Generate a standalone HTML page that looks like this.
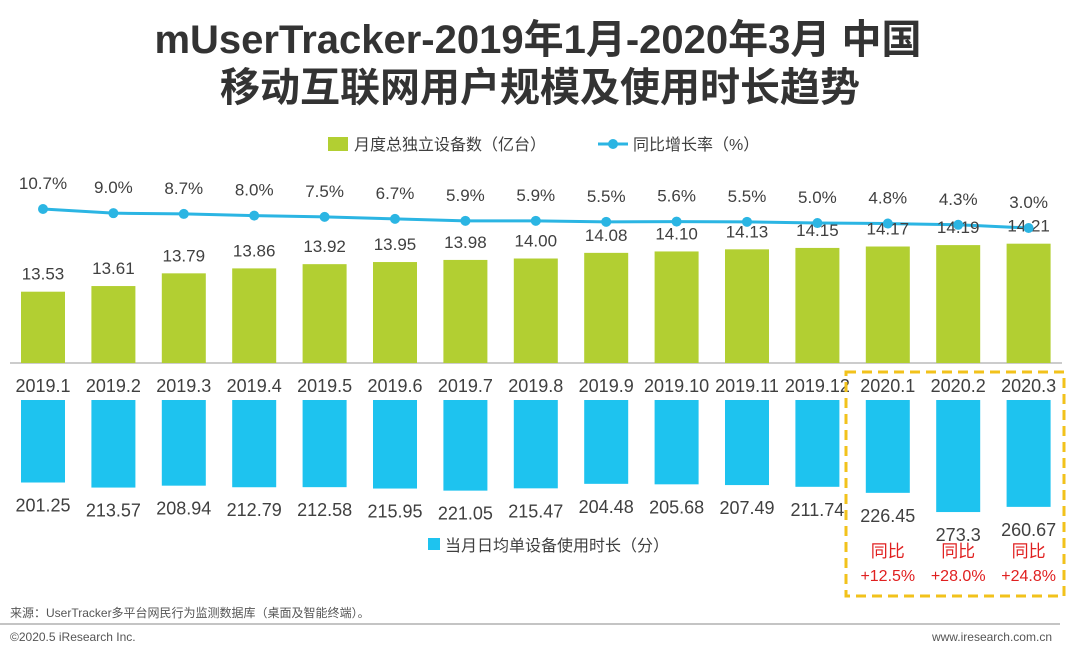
<!DOCTYPE html>
<html><head><meta charset="utf-8"><style>
body{margin:0;background:#fff;}
svg{display:block;font-family:"Liberation Sans","Noto Sans CJK SC",sans-serif;}
</style></head><body>
<svg id="c" width="1068" height="657">
<text x="538" y="53" text-anchor="middle" font-size="40" font-weight="bold" fill="#333">mUserTracker-2019年1月-2020年3月 中国</text>
<text x="540" y="101" text-anchor="middle" font-size="40" font-weight="bold" fill="#333">移动互联网用户规模及使用时长趋势</text>
<rect x="328" y="137" width="20" height="14" fill="#b2cf32"/>
<text x="354" y="150" font-size="16" fill="#404040">月度总独立设备数（亿台）</text>
<line x1="598" y1="144" x2="628" y2="144" stroke="#2bb5e3" stroke-width="3"/>
<circle cx="613" cy="144" r="5" fill="#2bb5e3"/>
<text x="633" y="150" font-size="16" fill="#404040">同比增长率（%）</text>
<line x1="10" y1="363" x2="1062" y2="363" stroke="#999" stroke-width="1"/>
<g id="g"></g>
<rect x="428" y="538" width="12" height="12" fill="#1ec3ef"/>
<text x="445" y="551" font-size="16" fill="#404040">当月日均单设备使用时长（分）</text>
<rect x="846" y="372" width="218" height="224" fill="none" stroke="#f2c21b" stroke-width="3" stroke-dasharray="10,6"/>
<text x="10" y="617" font-size="12" fill="#555">来源：UserTracker多平台网民行为监测数据库（桌面及智能终端）。</text>
<line x1="0" y1="624" x2="1060" y2="624" stroke="#888" stroke-width="1"/>
<text x="10" y="641" font-size="12" fill="#555">©2020.5 iResearch Inc.</text>
<text x="1052" y="641" text-anchor="end" font-size="12" fill="#555">www.iresearch.com.cn</text>
</svg>
<script>
const categories=["2019.1","2019.2","2019.3","2019.4","2019.5","2019.6","2019.7","2019.8","2019.9","2019.10","2019.11","2019.12","2020.1","2020.2","2020.3"];
const devices=[13.53,13.61,13.79,13.86,13.92,13.95,13.98,14.00,14.08,14.10,14.13,14.15,14.17,14.19,14.21];
const growth=[10.7,9.0,8.7,8.0,7.5,6.7,5.9,5.9,5.5,5.6,5.5,5.0,4.8,4.3,3.0];
const duration=[201.25,213.57,208.94,212.79,212.58,215.95,221.05,215.47,204.48,205.68,207.49,211.74,226.45,273.3,260.67];
const yoyLabels=["+12.5%","+28.0%","+24.8%"];
const NS="http://www.w3.org/2000/svg";
const g=document.getElementById('g');
const xc=i=>43+i*70.4;
const yDev=v=>363-(v-12.52)*70.6;
const yGr=v=>228-(v-3)*2.47;
const hDur=v=>v*0.41;
function mk(t,a,txt){const e=document.createElementNS(NS,t);for(const k in a)e.setAttribute(k,a[k]);if(txt!==undefined)e.textContent=txt;g.appendChild(e);return e;}
let pts=growth.map((v,i)=>xc(i)+','+yGr(v)).join(' ');
const pl=mk('polyline',{points:pts,fill:'none',stroke:'#2bb5e3','stroke-width':3});


categories.forEach((c,i)=>{
 const x=xc(i);
 const b=mk('rect',{x:x-22,y:yDev(devices[i]),width:44,height:363-yDev(devices[i]),fill:'#b2cf32'});
 
 
 const dl=mk('text',{x:x,y:yDev(devices[i])-12,'text-anchor':'middle','font-size':17,fill:'#404040'},devices[i].toFixed(2));
 
 
 const pt=mk('circle',{cx:x,cy:yGr(growth[i]),r:5,fill:'#2bb5e3'});
 
 
 const gl=mk('text',{x:x,y:yGr(growth[i])-20,'text-anchor':'middle','font-size':17,fill:'#404040'},growth[i].toFixed(1)+'%');
 
 
 const cl=mk('text',{x:x,y:392,'text-anchor':'middle','font-size':18,fill:'#404040'},c);
 
 
 const h=hDur(duration[i]);
 const br=mk('rect',{x:x-22,y:400,width:44,height:h,fill:'#1ec3ef'});
 
 
 const bl=mk('text',{x:x,y:400+h+29,'text-anchor':'middle','font-size':18,fill:'#404040'},String(duration[i]));
 
 
});
yoyLabels.forEach((t,j)=>{
 const x=xc(12+j);
 const a=mk('text',{x:x,y:557,'text-anchor':'middle','font-size':17,fill:'#e02020'},'同比');
 
 
 const b=mk('text',{x:x,y:581,'text-anchor':'middle','font-size':16,fill:'#e02020'},t);
 
 
});
</script>
</body></html>
